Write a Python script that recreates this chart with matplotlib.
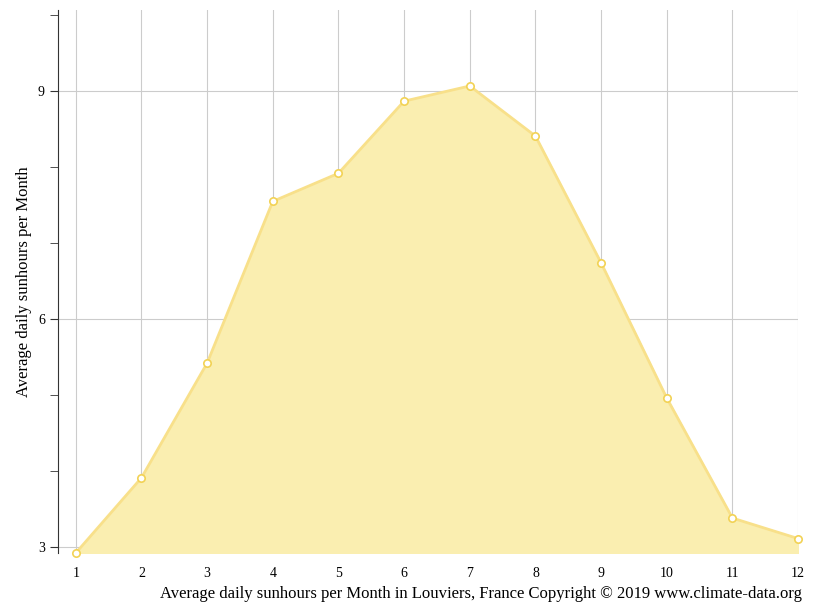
import matplotlib
matplotlib.use("Agg")
import matplotlib.pyplot as plt

months = list(range(1, 13))
sunhours = [2.92, 3.91, 5.42, 7.55, 7.92, 8.87, 9.07, 8.41, 6.74, 4.96, 3.38, 3.11]
yticks = [3, 6, 9]

plt.rcParams['font.family'] = ['Liberation Serif', 'DejaVu Serif']
fig = plt.figure(figsize=(8.15, 6.11), dpi=100)
ax = fig.add_axes([0.0712, 0.0949, 0.9081, 0.8887])
ymin = 2.92
ax.set_xlim(0.73, 12)
ax.set_ylim(ymin, 10.07)
ax.fill_between(months, sunhours, ymin, color='#faeeb0', zorder=2)
ax.plot(months, sunhours, color='#f8e08a', lw=2, zorder=3)
ax.scatter(months, sunhours, s=28, facecolor='white', edgecolor='#f2d255', lw=1.2, zorder=4, clip_on=False)
ax.set_xticks(months)
ax.set_yticks(yticks)
ax.set_yticks([4, 5, 7, 8, 10], minor=True)
ax.grid(True, color='#cccccc', lw=0.8, zorder=1)
for s in ['top', 'right']:
    ax.spines[s].set_visible(False)
ax.spines['bottom'].set_visible(False)
ax.spines['left'].set_color('#333333')
ax.tick_params(axis='x', length=0, labelsize=10, pad=10)
ax.tick_params(axis='y', which='both', length=6, labelsize=10, color='#333333')
ax.set_ylabel('Average daily sunhours per Month', fontsize=12)
fig.text(0.984, 0.015, 'Average daily sunhours per Month in Louviers, France Copyright © 2019 www.climate-data.org',
         ha='right', va='bottom', fontsize=12)
fig.savefig('out.png', dpi=100)
